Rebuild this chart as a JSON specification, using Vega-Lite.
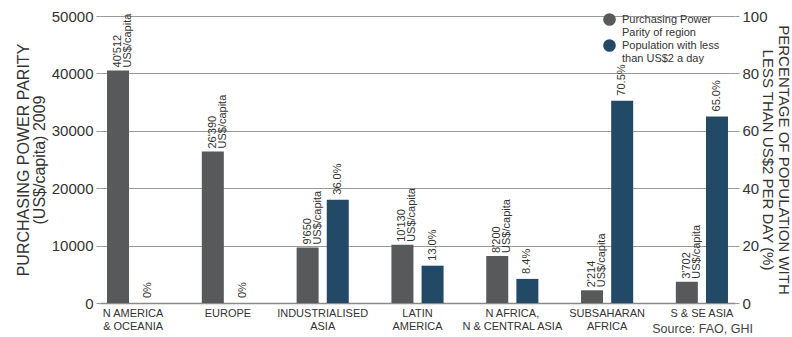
{
  "$schema": "https://vega.github.io/schema/vega-lite/v6.json",
  "width": 635,
  "height": 287,
  "autosize": {"type": "none"},
  "padding": {"left": 100, "top": 16, "right": 57, "bottom": 34},
  "background": "white",
  "config": {
    "view": {"stroke": null},
    "font": "Liberation Sans",
    "text": {"font": "Liberation Sans"}
  },
  "title": {
    "text": "Source: FAO, GHI",
    "orient": "bottom",
    "anchor": "end",
    "frame": "group",
    "fontSize": 12.5,
    "fontWeight": "normal",
    "color": "#444444",
    "offset": -8,
    "dx": 18
  },
  "data": {
    "values": [
      {"region": "N AMERICA|& OCEANIA", "series": "Purchasing Power|Parity of region", "value": 40512, "label": "40'512|US$/capita"},
      {"region": "N AMERICA|& OCEANIA", "series": "Population with less|than US$2 a day", "value": 0, "label": "0%"},
      {"region": "EUROPE", "series": "Purchasing Power|Parity of region", "value": 26390, "label": "26'390|US$/capita"},
      {"region": "EUROPE", "series": "Population with less|than US$2 a day", "value": 0, "label": "0%"},
      {"region": "INDUSTRIALISED|ASIA", "series": "Purchasing Power|Parity of region", "value": 9650, "label": "9'650|US$/capita"},
      {"region": "INDUSTRIALISED|ASIA", "series": "Population with less|than US$2 a day", "value": 36.0, "label": "36.0%"},
      {"region": "LATIN|AMERICA", "series": "Purchasing Power|Parity of region", "value": 10130, "label": "10'130|US$/capita"},
      {"region": "LATIN|AMERICA", "series": "Population with less|than US$2 a day", "value": 13.0, "label": "13.0%"},
      {"region": "N AFRICA,|N & CENTRAL ASIA", "series": "Purchasing Power|Parity of region", "value": 8200, "label": "8'200|US$/capita"},
      {"region": "N AFRICA,|N & CENTRAL ASIA", "series": "Population with less|than US$2 a day", "value": 8.4, "label": "8.4%"},
      {"region": "SUBSAHARAN|AFRICA", "series": "Purchasing Power|Parity of region", "value": 2214, "label": "2'214|US$/capita"},
      {"region": "SUBSAHARAN|AFRICA", "series": "Population with less|than US$2 a day", "value": 70.5, "label": "70.5%"},
      {"region": "S & SE ASIA", "series": "Purchasing Power|Parity of region", "value": 3702, "label": "3'702|US$/capita"},
      {"region": "S & SE ASIA", "series": "Population with less|than US$2 a day", "value": 65.0, "label": "65.0%"}
    ]
  },
  "encoding": {
    "x": {
      "field": "region",
      "type": "nominal",
      "sort": null,
      "scale": {"paddingInner": 0.45, "paddingOuter": 0.074},
      "axis": {
        "title": null,
        "labelAngle": 0,
        "labelExpr": "split(datum.label, '|')",
        "labelFontSize": 11,
        "labelColor": "#333333",
        "labelLineHeight": 13,
        "labelPadding": 4,
        "labelOverlap": false,
        "labelLimit": 300,
        "ticks": false,
        "domainColor": "#8a8a8a",
        "domainWidth": 1.5
      }
    },
    "xOffset": {
      "field": "series",
      "type": "nominal",
      "scale": {
        "domain": ["Purchasing Power|Parity of region", "Population with less|than US$2 a day"],
        "paddingInner": 0.27,
        "paddingOuter": 0
      }
    }
  },
  "layer": [
    {
      "transform": [{"filter": {"field": "series", "equal": "Purchasing Power|Parity of region"}}],
      "encoding": {
        "y": {
          "field": "value",
          "type": "quantitative",
          "scale": {"domain": [0, 50000], "nice": false},
          "axis": {
            "orient": "left",
            "values": [0, 10000, 20000, 30000, 40000, 50000],
            "format": "d",
            "grid": true,
            "gridColor": "#999999",
            "gridWidth": 1,
            "domain": false,
            "ticks": true,
            "tickSize": 4,
            "tickColor": "#999999",
            "labelPadding": 3,
            "labelFontSize": 15,
            "labelColor": "#333333",
            "title": ["PURCHASING POWER PARITY", "(US$/capita) 2009"],
            "titleFontSize": 16,
            "titleFontWeight": "normal",
            "titleColor": "#333333",
            "titleLineHeight": 16,
            "titlePadding": 4
          }
        }
      },
      "layer": [
        {
          "mark": {"type": "bar"},
          "encoding": {
            "color": {
              "field": "series",
              "type": "nominal",
              "scale": {
                "domain": ["Purchasing Power|Parity of region", "Population with less|than US$2 a day"],
                "range": ["#58595B", "#224A66"]
              },
              "legend": {
                "orient": "none",
                "legendX": 499,
                "legendY": -7,
                "title": null,
                "symbolType": "circle",
                "symbolSize": 160,
                "symbolStrokeWidth": 0,
                "symbolOpacity": 1,
                "labelFontSize": 11,
                "labelColor": "#333333",
                "labelExpr": "split(datum.label, '|')",
                "labelOffset": 6,
                "labelLimit": 300,
                "rowPadding": 1,
                "padding": 4
              }
            }
          }
        },
        {
          "mark": {
            "type": "text",
            "angle": 270,
            "align": "left",
            "baseline": "middle",
            "dx": 3,
            "lineBreak": "|",
            "fontSize": 11,
            "lineHeight": 10,
            "color": "#333333"
          },
          "encoding": {"text": {"field": "label"}}
        }
      ]
    },
    {
      "transform": [{"filter": {"field": "series", "equal": "Population with less|than US$2 a day"}}],
      "encoding": {
        "y": {
          "field": "value",
          "type": "quantitative",
          "scale": {"domain": [0, 100], "nice": false},
          "axis": {
            "orient": "right",
            "values": [0, 20, 40, 60, 80, 100],
            "grid": false,
            "domain": false,
            "ticks": true,
            "tickSize": 4,
            "tickColor": "#999999",
            "labelPadding": 3,
            "labelFontSize": 15,
            "labelColor": "#333333",
            "title": ["PERCENTAGE OF POPULATION WITH", "LESS THAN US$2 PER DAY (%)"],
            "titleAngle": 90,
            "titleFontSize": 15,
            "titleFontWeight": "normal",
            "titleColor": "#333333",
            "titleLineHeight": 16,
            "titlePadding": -8
          }
        }
      },
      "layer": [
        {
          "mark": {"type": "bar"},
          "encoding": {
            "color": {"field": "series", "type": "nominal"}
          }
        },
        {
          "mark": {
            "type": "text",
            "angle": 270,
            "align": "left",
            "baseline": "middle",
            "dx": 5,
            "fontSize": 11,
            "color": "#333333"
          },
          "encoding": {"text": {"field": "label"}}
        }
      ]
    }
  ],
  "resolve": {"scale": {"y": "independent"}}
}
